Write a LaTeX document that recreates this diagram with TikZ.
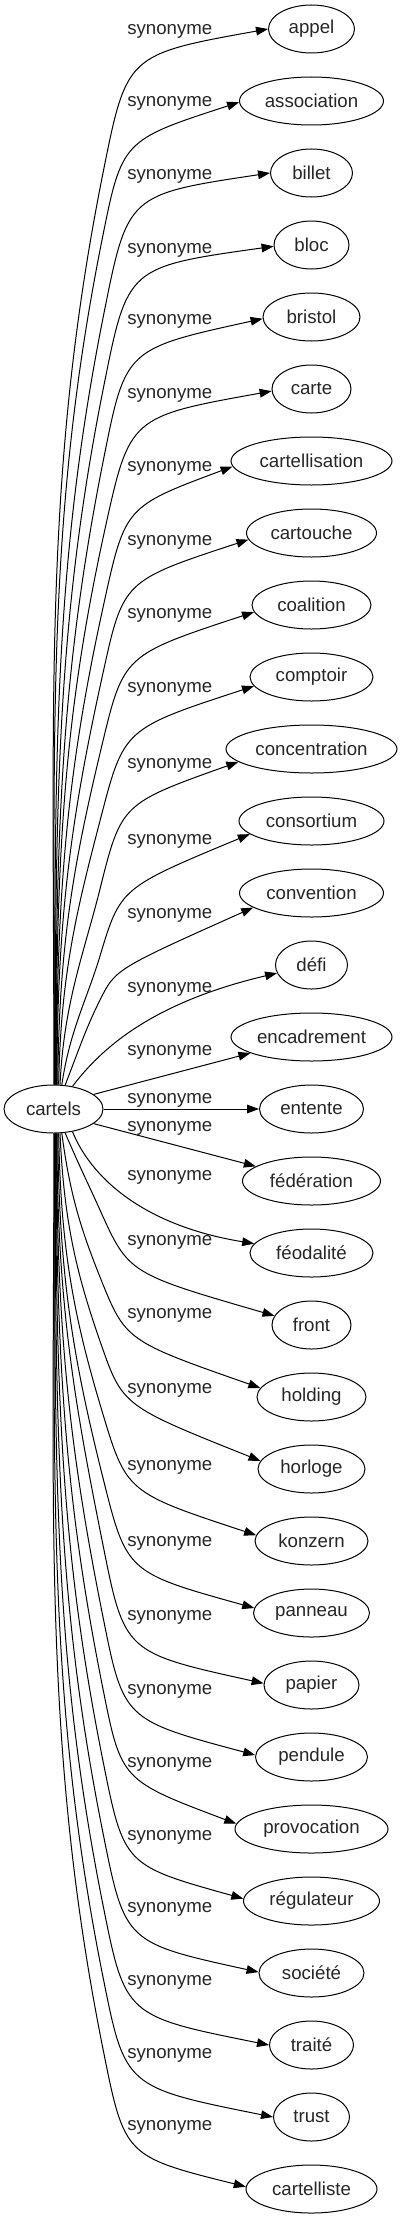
\documentclass[tikz,border=0pt]{standalone}
\usepackage{fontspec}
\setmainfont{Liberation Sans}
\usetikzlibrary{shapes.geometric,arrows.meta}
\begin{document}
\begin{tikzpicture}[x=0.75pt,y=-0.75pt,
  txt/.style={font=\fontsize{14}{16}\selectfont, text=black!85},
  word/.style={txt, ellipse, draw=black, line width=0.75pt, inner sep=0pt, minimum height=36pt, minimum width=#1*0.75pt},
  lbl/.style={txt, anchor=base west, inner sep=0pt},
  link/.style={draw=black, line width=0.75pt, -{Triangle[length=9pt,width=6.5pt]}}]
\useasboundingbox (0,0) rectangle (402,2219);
\node[word=99] (cartels) at (53.5,1109) {cartels};
\foreach \k/\w/\t in {0/86/appel,1/144/association,2/82/billet,3/75/bloc,4/97/bristol,5/79/carte,6/161/cartellisation,7/130/cartouche,8/119/coalition,9/123/comptoir,10/171/concentration,11/145/consortium,12/144/convention,13/72/défi,14/161/encadrement,15/104/entente,16/138/fédération,17/123/féodalité,18/79/front,19/109/holding,20/107/horloge,21/113/konzern,22/116/panneau,23/95/papier,24/112/pendule,25/153/provocation,26/136/régulateur,27/105/société,28/84/traité,29/76/trust,30/131/cartelliste}{
  \node[word=\w] (n\k) at (311.5,{29+72*\k}) {\t};
}
\foreach \k/\L in {0/30,1/102,2/175,3/248,4/319,5/393,6/466,7/540,8/613,9/687,10/763,11/839,12/913,13/987,14/1050,15/1098,16/1126,17/1175,18/1240,19/1313,20/1388,21/1465,22/1541,23/1615,24/1689,25/1762,26/1835,27/1907,28/1980,29/2053,30/2125}{
  \node[lbl] (l\k) at (127,{\L+5}) {synonyme};
}
% upper edges: k/width/x0/q0/slope/start angle/end angle/end slope/b
\foreach \k/\w/\xo/\qo/\m/\t/\al/\s/\b in {0/86/103/144/0.2/89/180/0.18/0,1/144/102/139/0.2/88/181/0.33/0,2/82/104/140/0.2/87/180/0.15/0,3/75/104/140/0.2/86/182/0.14/0,4/97/104/140/0.2/85/182/0.22/0,5/79/105/140/0.22/84/183/0.18/0,6/161/104/142/0.22/83/184/0.38/0,7/130/103/140/0.22/82/186/0.33/0,8/119/102/140/0.24/80/187/0.33/1,9/123/101/140/0.26/78/189/0.33/2,10/171/100/140/0.25/75/190/0.36/4,11/145/100/135/0.3/71/192/0.42/8,12/144/100/107/0.5/64/194/0.45/14}{
  \pgfmathsetmacro{\myY}{29+72*\k}
  \pgfmathsetmacro{\myPy}{\myY+\qo}
  \pgfmathsetmacro{\myD}{1086-\myPy}
  \pgfmathsetmacro{\myC}{cos(\al)/(\w/2)}
  \pgfmathsetmacro{\myE}{sin(\al)/24}
  \pgfmathsetmacro{\myR}{1/sqrt((\myC)*(\myC)+(\myE)*(\myE))}
  \pgfmathsetmacro{\myTx}{311.5+(\myR)*cos(\al)}
  \pgfmathsetmacro{\myTy}{\myY-(\myR)*sin(\al)}
  \pgfmathsetmacro{\myN}{sqrt(1+\m*\m)}
  \pgfmathsetmacro{\myAx}{\m/(\myN)}
  \pgfmathsetmacro{\myAy}{-1/(\myN)}
  \pgfmathsetmacro{\myNs}{sqrt(1+\s*\s)}
  \pgfmathsetmacro{\myBx}{-1/(\myNs)}
  \pgfmathsetmacro{\myBy}{\s/(\myNs)}
  \pgfmathsetmacro{\myDx}{\myTx-\xo}
  \pgfmathsetmacro{\myDy}{\myTy-\myPy}
  \pgfmathsetmacro{\myDet}{(\myBx)*(\myAy)-(\myAx)*(\myBy)}
  \pgfmathsetmacro{\myS}{max(1,((\myBx)*(\myDy)-(\myDx)*(\myBy))/(\myDet))}
  \pgfmathsetmacro{\myIx}{\xo+(\myS)*(\myAx)}
  \pgfmathsetmacro{\myIy}{\myPy+(\myS)*(\myAy)}
  \draw[link] (cartels.\t) .. controls +(\b,{-0.42*\myD}) and +({-\m*0.33*\myD},{0.33*\myD}) .. (\xo,\myPy) .. controls (\myIx,\myIy) and (\myIx,\myIy) .. (n\k.\al);
}
% lower edges
\foreach \k/\w/\xo/\qo/\m/\t/\al/\s/\b in {18/79/100/115/0.45/296/166/0.29/14,19/109/100/120/0.4/289/170/0.35/8,20/107/101/125/0.35/285/171/0.4/4,21/113/102/130/0.3/282/174/0.33/2,22/116/103/135/0.25/280/175/0.28/1,23/95/103/140/0.2/278/178/0.22/0,24/112/103/140/0.2/277/178/0.27/0,25/153/103/140/0.2/276/176/0.38/0,26/136/103/140/0.2/275/178/0.28/0,27/105/103/140/0.2/274/179/0.22/0,28/84/103/140/0.2/273/180/0.2/0,29/76/103/140/0.2/272/180/0.2/0,30/131/103/140/0.2/271/178/0.25/0}{
  \pgfmathsetmacro{\myY}{29+72*\k}
  \pgfmathsetmacro{\myPy}{\myY-\qo}
  \pgfmathsetmacro{\myD}{\myPy-1132}
  \pgfmathsetmacro{\myC}{cos(\al)/(\w/2)}
  \pgfmathsetmacro{\myE}{sin(\al)/24}
  \pgfmathsetmacro{\myR}{1/sqrt((\myC)*(\myC)+(\myE)*(\myE))}
  \pgfmathsetmacro{\myTx}{311.5+(\myR)*cos(\al)}
  \pgfmathsetmacro{\myTy}{\myY-(\myR)*sin(\al)}
  \pgfmathsetmacro{\myN}{sqrt(1+\m*\m)}
  \pgfmathsetmacro{\myAx}{\m/(\myN)}
  \pgfmathsetmacro{\myAy}{1/(\myN)}
  \pgfmathsetmacro{\myNs}{sqrt(1+\s*\s)}
  \pgfmathsetmacro{\myBx}{-1/(\myNs)}
  \pgfmathsetmacro{\myBy}{-\s/(\myNs)}
  \pgfmathsetmacro{\myDx}{\myTx-\xo}
  \pgfmathsetmacro{\myDy}{\myTy-\myPy}
  \pgfmathsetmacro{\myDet}{(\myBx)*(\myAy)-(\myAx)*(\myBy)}
  \pgfmathsetmacro{\myS}{max(1,((\myBx)*(\myDy)-(\myDx)*(\myBy))/(\myDet))}
  \pgfmathsetmacro{\myIx}{\xo+(\myS)*(\myAx)}
  \pgfmathsetmacro{\myIy}{\myPy+(\myS)*(\myAy)}
  \draw[link] (cartels.\t) .. controls +(\b,{0.42*\myD}) and +({-\m*0.33*\myD},{-0.33*\myD}) .. (\xo,\myPy) .. controls (\myIx,\myIy) and (\myIx,\myIy) .. (n\k.\al);
}
% middle edges
\draw[link] (cartels.50) .. controls (100,1050) and (150,1003) .. (n13);
\draw[link] (cartels.20) -- (n14);
\draw[link] (cartels) -- (n15);
\draw[link] (cartels.340) -- (n16);
\draw[link] (cartels.310) .. controls (90,1175) and (140,1225) .. (n17);
\end{tikzpicture}
\end{document}
